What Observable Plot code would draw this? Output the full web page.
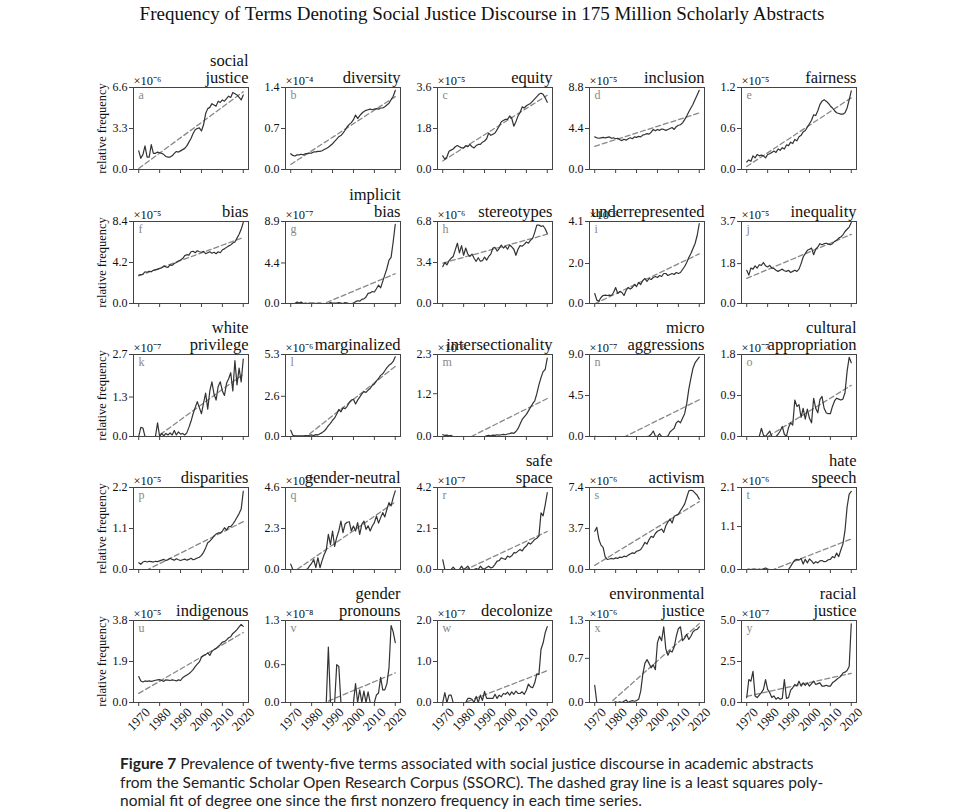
<!DOCTYPE html>
<html><head><meta charset="utf-8">
<script src="https://cdn.jsdelivr.net/npm/d3@7"></script>
<script src="https://cdn.jsdelivr.net/npm/@observablehq/plot@0.6"></script>
<style>
body{margin:0;background:#fff;}
#wrap{position:relative;width:964px;height:810px;overflow:hidden;font-family:"Liberation Serif",serif;background:#fff;}
#title{position:absolute;left:0;top:3px;width:964px;text-align:center;font-size:19px;color:#111;}
.panel{position:absolute;}
.panel svg{overflow:visible;background:transparent;}
#wrap .panel svg, #wrap .panel svg text{font-family:"Liberation Serif",serif !important;}
#caption{position:absolute;left:120px;top:754px;font-family:Lato,sans-serif;font-size:15.5px;line-height:18.5px;color:#222;white-space:nowrap;}
</style></head><body>
<div id="wrap">
<div id="title">Frequency of Terms Denoting Social Justice Discourse in 175 Million Scholarly Abstracts</div>
<div id="caption"><b>Figure 7</b> Prevalence of twenty-five terms associated with social justice discourse in academic abstracts<br>from the Semantic Scholar Open Research Corpus (SSORC). The dashed gray line is a least squares poly-<br>nomial fit of degree one since the first nonzero frequency in each time series.</div>
</div>
<script>
// ---------- data ----------
const years = d3.range(1970, 2021); // 1970..2020
const tickYears = [1970, 1980, 1990, 2000, 2010, 2020];
const terms = ["social\njustice","diversity","equity","inclusion","fairness",
  "bias","implicit\nbias","stereotypes","underrepresented","inequality",
  "white\nprivilege","marginalized","intersectionality","micro\naggressions","cultural\nappropriation",
  "disparities","gender-neutral","safe\nspace","activism","hate\nspeech",
  "indigenous","gender\npronouns","decolonize","environmental\njustice","racial\njustice"];
const letters = ["a","b","c","d","e","f","g","h","i","j","k","l","m","n","o","p","q","r","s","t","u","v","w","x","y"];
const exponents = [-6,-4,-5,-5,-5, -5,-7,-6,-6,-5, -7,-6,-6,-7,-7, -5,-7,-7,-6,-6, -5,-8,-7,-6,-7];
const yMax = [6.6,1.4,3.6,8.8,1.2, 8.4,8.9,6.8,4.1,3.7, 2.7,5.3,2.3,9.0,1.8, 2.2,4.6,4.2,7.4,2.1, 3.8,1.3,2.0,1.3,5.0];
const yMid = [3.3,0.7,1.8,4.4,0.6, 4.2,4.4,3.4,2.0,1.8, 1.3,2.6,1.2,4.5,0.9, 1.1,2.3,2.1,3.7,1.1, 1.9,0.6,1.0,0.7,2.5];

// values in units of 10^exponent, one per year 1970..2020
const socialJustice = [1.5,0.9,1.2,1.9,1.0,1.0,2.0,1.3,1.3,1.4, 1.35,1.3,1.2,1.05,1.0,1.0,1.1,1.3,1.45,1.4, 1.5,1.6,1.7,1.9,2.2,2.5,2.9,3.2,3.3,3.35, 3.1,3.6,4.5,4.9,5.0,5.3,5.2,5.1,5.5,5.4, 5.6,5.5,5.7,5.9,5.8,6.2,6.1,6.0,5.8,5.6, 6.0];
const diversity = [0.27,0.24,0.23,0.25,0.25,0.26,0.25,0.27,0.27,0.28, 0.28,0.30,0.30,0.31,0.31,0.32,0.34,0.36,0.38,0.41, 0.44,0.48,0.52,0.56,0.58,0.62,0.67,0.73,0.77,0.80, 0.85,0.93,0.87,0.92,0.96,0.99,1.01,1.02,1.03,1.02, 1.03,1.04,1.03,1.05,1.05,1.07,1.10,1.13,1.19,1.25, 1.35];
const equity = [0.6,0.45,0.55,0.8,0.85,0.9,1.0,1.05,1.0,0.95, 0.95,1.05,1.0,1.1,1.0,0.95,1.05,1.1,1.1,1.2, 1.25,1.35,1.6,1.5,1.55,1.6,1.75,1.9,2.1,2.15, 2.2,2.2,2.35,2.25,1.9,2.1,2.35,2.5,2.75,2.7, 2.8,2.85,2.9,3.0,3.1,3.2,3.3,3.35,3.3,3.15, 2.95];
const inclusion = [3.5,3.4,3.35,3.4,3.45,3.4,3.45,3.5,3.35,3.4, 3.3,3.35,3.2,3.1,3.25,3.15,3.3,3.4,3.3,3.5, 3.45,3.55,3.5,3.7,3.75,3.85,3.8,4.0,4.3,4.15, 4.3,4.2,4.35,4.3,4.2,4.3,4.4,4.5,4.3,4.6, 4.75,4.8,5.0,5.35,5.75,6.2,6.6,7.0,7.5,8.0, 8.5];
const fairness = [0.11,0.14,0.12,0.2,0.17,0.22,0.2,0.21,0.2,0.17, 0.22,0.23,0.25,0.27,0.25,0.3,0.28,0.32,0.3,0.36, 0.35,0.4,0.38,0.44,0.42,0.48,0.5,0.55,0.57,0.62, 0.67,0.72,0.8,0.79,0.86,0.95,1.0,1.02,1.0,0.97, 0.93,0.9,0.86,0.83,0.82,0.81,0.81,0.83,0.9,1.02, 1.15];
const bias = [2.9,2.95,3.0,3.25,3.2,3.3,3.25,3.4,3.45,3.5, 3.6,3.65,3.85,3.75,3.7,3.95,3.9,4.1,4.2,4.35, 4.45,4.6,4.9,5.0,4.95,5.3,5.35,5.2,5.4,5.3, 5.25,5.35,5.1,5.2,5.3,5.15,5.25,5.1,5.3,5.2, 5.5,5.6,5.75,5.9,6.0,6.2,6.3,6.7,7.1,7.6, 8.3];
const implicitBias = [0,0,0,0.15,0.05,0.15,0,0.05,0,0.05, 0.05,0.05,0,0.05,0.05,0,0,0,0,0.1, 0.05,0.05,0.05,0.1,0.05,0,0.1,0.05,0,0, 0.05,0.2,0.3,0.25,0.45,0.5,0.7,1.1,1.15,1.3, 1.25,1.6,2.0,1.7,2.4,3.1,3.8,4.7,5.0,6.7, 8.6];
const stereotypes = [3.05,3.4,3.2,3.55,3.75,3.9,4.45,5.0,4.2,4.8, 4.0,4.6,4.1,3.9,4.1,3.75,3.5,3.8,3.5,3.55, 3.85,3.6,3.9,4.1,4.6,4.65,4.35,4.55,4.85,4.6, 4.75,4.5,4.85,4.7,4.5,4.0,4.5,4.8,4.75,4.9, 5.1,5.0,5.25,5.4,5.9,6.5,6.5,6.4,6.45,6.2, 5.8];
const underrepresented = [0.5,0.17,0.12,0.3,0.4,0.42,0.4,0.42,0.4,0.55, 0.8,0.5,0.6,0.55,0.4,0.65,0.8,0.72,0.8,0.95, 0.85,1.05,0.95,1.15,1.25,1.1,1.25,1.2,1.3,1.35, 1.3,1.4,1.35,1.5,1.5,1.4,1.45,1.5,1.45,1.55, 1.5,1.55,1.7,1.85,2.05,2.3,2.5,2.75,3.0,3.4, 4.0];
const inequality = [1.5,1.28,1.6,1.55,1.7,1.6,1.75,1.72,1.85,1.7, 1.65,1.72,1.6,1.58,1.5,1.45,1.5,1.55,1.48,1.45, 1.5,1.4,1.45,1.5,1.45,1.55,1.8,2.1,2.25,2.4, 2.45,2.5,2.2,2.45,2.55,2.7,2.65,2.7,2.72,2.68, 2.65,2.7,2.8,2.85,2.95,3.0,3.1,3.25,3.35,3.45, 3.65];
const whitePrivilege = [0,0.3,0.28,0,0,0,0,0,0,0.45, 0,0.1,0.02,0.1,0.05,0.12,0.05,0.2,0.05,0.15, 0.08,0.1,0.05,0.12,0.3,0.5,0.75,0.95,1.15,0.95, 0.75,1.1,1.43,0.9,1.5,1.8,1.4,1.2,1.65,1.8, 1.5,1.35,1.75,1.9,2.1,1.5,2.5,1.7,2.25,1.8, 2.55];
const marginalized = [0.4,0.08,0.05,0.05,0.04,0.05,0.05,0.06,0.05,0.08, 0.1,0.06,0.12,0.1,0.18,0.25,0.35,0.5,0.7,0.85, 1.05,1.2,1.45,1.75,1.6,1.85,1.8,1.95,2.2,2.35, 2.4,2.1,2.35,2.55,2.75,2.9,2.85,3.0,3.1,3.3, 3.4,3.6,3.75,3.95,4.05,4.25,4.45,4.6,4.7,4.85, 5.15];
const intersectionality = [0.05,0.03,0.04,0.02,0.03,0,0,0,0,0, 0,0,0,0,0,0,0,0,0,0, 0,0.02,0.03,0.02,0.04,0.03,0.05,0.04,0.05,0.06, 0.05,0.07,0.08,0.1,0.09,0.14,0.22,0.35,0.48,0.55, 0.62,0.72,0.82,0.92,1.0,1.2,1.45,1.65,1.82,1.88, 2.2];
const microaggressions = [0.01,0,0,0,0,0,0,0,0,0, 0,0,0,0,0,0,0,0,0,0, 0,0,0,0,0,0,0.05,0.25,0.6,0.05, 0,0.3,0,0,0,0.05,0.5,0.7,0.9,1.5, 1.7,1.5,2.0,2.5,3.6,5.2,6.4,7.5,8.1,8.4, 8.7];
const culturalAppropriation = [0,0,0,0,0,0,0,0.18,0.03,0, 0.06,0.12,0,0,0,0.05,0.12,0.22,0.05,0, 0.2,0.3,0.25,0.8,0.66,0.7,0.42,0.62,0.38,0.6, 0.4,0.3,0.84,0.62,0.52,0.81,0.88,0.62,0.52,0.5, 0.5,0.66,0.78,0.84,0.82,0.8,0.82,0.96,1.43,1.74, 1.62];
const disparities = [0.18,0.14,0.2,0.22,0.2,0.22,0.21,0.2,0.22,0.21, 0.23,0.25,0.27,0.24,0.26,0.3,0.27,0.25,0.29,0.26, 0.24,0.26,0.28,0.25,0.27,0.3,0.26,0.28,0.31,0.33, 0.38,0.46,0.58,0.72,0.76,0.82,0.9,0.95,0.98,0.98, 1.03,1.12,1.06,1.15,1.15,1.22,1.3,1.4,1.5,1.62, 2.1];
const genderNeutral = [0.3,0,0,0,0,0,0,0,0.02,0.2, 0.35,0.56,0.1,0.66,0.1,0.5,0.84,1.1,1.97,1.4, 2.16,1.3,1.8,2.16,2.72,2.07,2.55,2.65,2.68,2.16, 2.44,2.16,2.63,1.97,2.53,2.72,2.25,2.45,2.16,2.44, 2.63,3.0,2.6,2.91,3.19,2.95,3.38,3.75,3.57,4.03, 4.41];
const safeSpace = [0.5,0,0,0,0,0.12,0,0,0,0.17, 0,0.08,0.17,0,0,0,0.05,0,0.17,0.05, 0.03,0.1,0.17,0.08,0.12,0.26,0.43,0.45,0.6,0.55, 0.52,0.69,0.63,0.7,0.86,0.85,0.94,1.03,0.95,1.11, 1.2,1.37,1.3,1.42,1.54,1.6,1.71,2.9,2.75,3.3, 3.94];
const activism = [3.45,3.8,2.7,2.2,2.0,1.15,0.92,0.95,1.0,0.95, 1.05,1.0,1.12,1.08,1.2,1.15,1.3,1.4,1.5,1.45, 1.65,1.7,1.8,2.1,2.45,2.3,2.7,3.0,2.9,3.25, 3.45,3.55,3.65,3.35,3.95,4.3,4.55,4.2,4.8,4.9, 5.0,5.3,5.6,5.9,6.5,7.1,7.15,7.1,6.9,6.7, 6.35];
const hateSpeech = [0,0.01,0,0.01,0.01,0,0.01,0,0.02,0.04, 0.01,0,0,0,0,0,0,0,0,0, 0,0.08,0.17,0.24,0.26,0.24,0.28,0.14,0.26,0.17, 0.27,0.22,0.15,0.2,0.17,0.22,0.23,0.2,0.21,0.25, 0.26,0.33,0.3,0.42,0.33,0.5,0.65,1.0,1.6,1.93, 2.0];
const indigenous = [1.2,1.0,0.95,1.0,0.98,1.0,0.98,1.0,1.03,1.05, 1.06,1.02,0.98,1.05,1.04,1.02,1.05,1.03,1.0,1.05, 1.02,1.15,1.22,1.27,1.33,1.42,1.52,1.66,1.78,1.88, 2.1,2.18,2.22,2.3,2.18,2.38,2.45,2.5,2.6,2.68, 2.8,2.82,2.9,3.0,3.05,3.2,3.28,3.38,3.5,3.62, 3.53];
const genderPronouns = [0,0,0,0,0,0,0,0,0,0, 0,0,0,0,0,0,0,0,0.88,0, 0,0,0.6,0.57,0,0,0,0,0,0, 0,0.3,0,0.2,0,0.18,0,0.17,0,0, 0,0.12,0.15,0.4,0.2,0.2,0.3,0.55,1.22,1.12, 0.95];
const decolonize = [0,0.24,0,0.18,0.18,0,0,0,0,0, 0,0,0.1,0.1,0.08,0,0.15,0,0.18,0.05, 0.27,0.1,0.1,0.1,0.1,0.2,0.1,0.18,0.14,0.22, 0.2,0.25,0.18,0.26,0.2,0.28,0.22,0.22,0.26,0.2, 0.3,0.45,0.38,0.36,0.48,0.7,0.68,1.3,1.45,1.7, 1.85];
const environmentalJustice = [0.27,0,0,0,0,0,0,0,0,0, 0.01,0,0.01,0,0.02,0.04,0,0.02,0.03,0.02, 0.03,0.05,0.18,0.45,0.62,0.68,0.62,0.55,0.6,0.52, 0.95,1.05,0.98,1.2,0.85,0.75,0.82,0.8,0.88,1.05, 1.17,1.2,0.98,1.02,1.08,1.0,1.05,1.12,1.15,1.16, 1.2];
const racialJustice = [0.3,1.4,1.3,1.9,0.4,0.3,0.45,0.6,0.8,1.4, 0.8,0.6,0.3,0.4,0.2,0.3,0.2,0.25,1.4,0.25, 0.3,0.75,0.9,1.1,1.0,1.3,1.0,1.2,1.05,1.2, 1.0,1.15,1.3,1.1,1.15,1.2,1.0,1.0,1.05,1.0, 1.0,1.2,1.3,1.4,1.5,1.6,1.8,1.85,1.95,2.2, 4.8];

const series = [socialJustice, diversity, equity, inclusion, fairness,
  bias, implicitBias, stereotypes, underrepresented, inequality,
  whitePrivilege, marginalized, intersectionality, microaggressions, culturalAppropriation,
  disparities, genderNeutral, safeSpace, activism, hateSpeech,
  indigenous, genderPronouns, decolonize, environmentalJustice, racialJustice];

// ---------- layout ----------
const FW = 115, FH = 82, ML = 50, MR = 12, MT = 50;
const colLeft = [133, 285, 437, 589, 741];
const rowTop = [87, 221, 354, 487, 620];
const FONT = "'Liberation Serif', serif";
const supMap = {"-":"⁻","0":"⁰","1":"¹","2":"²","3":"³","4":"⁴","5":"⁵","6":"⁶","7":"⁷","8":"⁸","9":"⁹"};
const sup = n => String(n).split("").map(ch => supMap[ch]).join("");
const wrap = document.getElementById("wrap");

terms.forEach((term, i) => {
  const r = Math.floor(i / 5), c = i % 5;
  const vals = series[i];
  const data = years.map((y, k) => ({year: y, value: vals[k]}));
  const firstNZ = data.findIndex(d => d.value > 0);
  const fitData = data.slice(firstNZ);
  const bottom = r === 4;
  const MB = bottom ? 45 : 10;
  const marks = [
    Plot.axisX({ticks: tickYears, tickSize: 4, stroke: "#444", label: null,
      tickFormat: bottom ? (d => String(d)) : (() => ""),
      ...(bottom ? {tickRotate: -45, textAnchor: "middle", lineAnchor: "middle", fontSize: 13,
        fill: "#111", fontFamily: FONT, tickPadding: 13} : {})}),
    Plot.axisY({ticks: [0, yMid[i], yMax[i]], tickSize: 4, stroke: "#444", label: null,
      tickFormat: d => d.toFixed(1), fontSize: 12, fill: "#111", tickPadding: 2, fontFamily: FONT}),
    Plot.linearRegressionY(fitData, {x: "year", y: "value", ci: 0, stroke: "#888",
      strokeWidth: 1.3, strokeDasharray: "5,3", clip: true}),
    Plot.lineY(data, {x: "year", y: "value", stroke: "#333", strokeWidth: 1.2, clip: true}),
    Plot.frame({stroke: "#444"}),
    Plot.text([letters[i]], {text: d => d, frameAnchor: "top-left", dx: 5, dy: 3,
      lineAnchor: "top", textAnchor: "start", fill: "#888", fontSize: 12, fontFamily: FONT}),
    Plot.text([term], {text: d => d, frameAnchor: "top-right", dy: -5, lineAnchor: "bottom",
      textAnchor: "end", fontSize: 16.5, lineHeight: 1.0, fill: "#111", fontFamily: FONT}),
    Plot.text(["×10" + sup(exponents[i])], {text: d => d, frameAnchor: "top-left", dy: -3,
      lineAnchor: "bottom", textAnchor: "start", fontSize: 12.5, fill: "#111", fontFamily: FONT})
  ];
  if (c === 0) {
    marks.push(Plot.text(["relative frequency"], {text: d => d, frameAnchor: "left", dx: -32,
      rotate: -90, textAnchor: "middle", lineAnchor: "middle", fontSize: 12.5, fill: "#111", fontFamily: FONT}));
  }
  const plot = Plot.plot({
    width: ML + FW + MR, height: MT + FH + MB,
    marginLeft: ML, marginRight: MR, marginTop: MT, marginBottom: MB,
    style: {background: "transparent", overflow: "visible", fontFamily: FONT},
    x: {domain: [1967.5, 2022.5], label: null},
    y: {domain: [0, yMax[i]], label: null},
    marks
  });
  const div = document.createElement("div");
  div.className = "panel";
  div.style.left = (colLeft[c] - ML) + "px";
  div.style.top = (rowTop[r] - MT) + "px";
  div.appendChild(plot);
  wrap.appendChild(div);
});
</script>
</body></html>
